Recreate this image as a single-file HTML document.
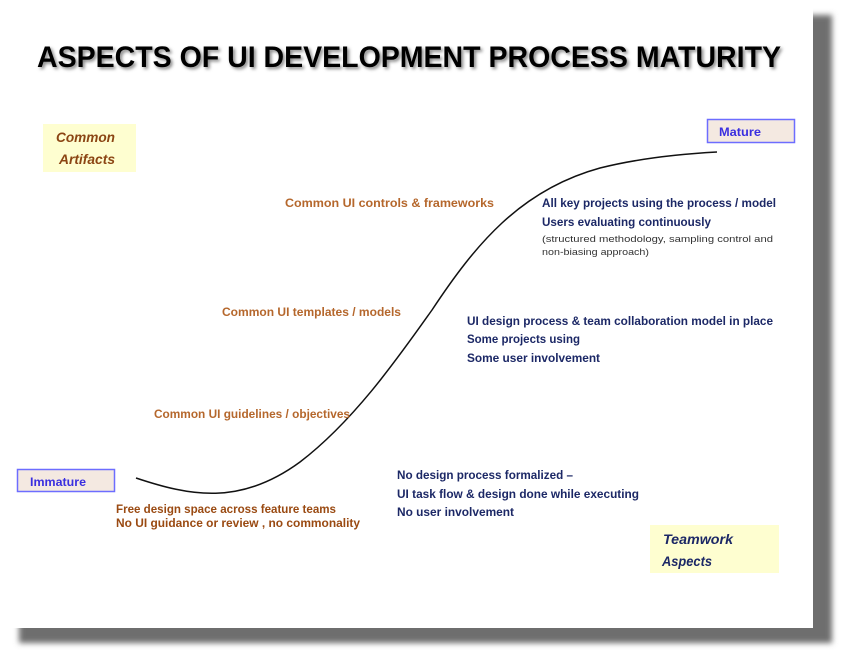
<!DOCTYPE html>
<html><head><meta charset="utf-8"><style>
html,body{margin:0;padding:0;background:#fff;width:841px;height:656px;overflow:hidden}
svg{display:block}
</style></head><body>
<svg width="841" height="656" viewBox="0 0 841 656" xmlns="http://www.w3.org/2000/svg" font-family="'Liberation Sans', sans-serif">
<defs>
<filter id="b" x="-5%" y="-5%" width="110%" height="110%"><feGaussianBlur stdDeviation="3"/></filter>
<filter id="ts" x="-5%" y="-30%" width="110%" height="160%"><feGaussianBlur stdDeviation="1.5"/></filter>
</defs>
<rect x="19" y="15" width="813" height="628" fill="#6e6e6e" filter="url(#b)"/>
<rect x="0" y="0" width="813" height="628" fill="#fff"/>
<g font-weight="bold" font-size="30">
<text x="39" y="69" textLength="744" lengthAdjust="spacingAndGlyphs" fill="#888" filter="url(#ts)">ASPECTS OF UI DEVELOPMENT PROCESS MATURITY</text>
<text x="37" y="67" textLength="744" lengthAdjust="spacingAndGlyphs" fill="#000">ASPECTS OF UI DEVELOPMENT PROCESS MATURITY</text>
</g>
<rect x="43" y="124" width="93" height="48" fill="#fefed0"/>
<g font-weight="bold" font-style="italic" font-size="14" fill="#8b4513">
<text x="56" y="142" textLength="59" lengthAdjust="spacingAndGlyphs">Common</text>
<text x="59" y="164" textLength="56" lengthAdjust="spacingAndGlyphs">Artifacts</text>
</g>
<rect x="650" y="525" width="129" height="48" fill="#fefed0"/>
<g font-weight="bold" font-style="italic" font-size="14" fill="#1c2866">
<text x="663" y="544" textLength="70" lengthAdjust="spacingAndGlyphs">Teamwork</text>
<text x="662" y="566" textLength="50" lengthAdjust="spacingAndGlyphs">Aspects</text>
</g>
<rect x="707.5" y="119.5" width="87" height="23" fill="#f4e9e1" stroke="#6d6dff" stroke-width="1.5"/>
<text x="719" y="136" font-size="12" font-weight="bold" fill="#3a2fe0" textLength="42" lengthAdjust="spacingAndGlyphs">Mature</text>
<rect x="17.5" y="469.5" width="97" height="22" fill="#f4e9e1" stroke="#6d6dff" stroke-width="1.5"/>
<text x="30" y="486" font-size="12" font-weight="bold" fill="#3a2fe0" textLength="56" lengthAdjust="spacingAndGlyphs">Immature</text>
<path d="M136,478 C190,496 240,506 300,462 C355,420 400,355 432,310 C475,245 520,190 600,168 C640,158 680,154 717,152" fill="none" stroke="#111" stroke-width="1.5"/>
<g font-weight="bold" font-size="12" fill="#b5672c">
<text x="285" y="207" textLength="209" lengthAdjust="spacingAndGlyphs">Common UI controls &amp; frameworks</text>
<text x="222" y="316" textLength="179" lengthAdjust="spacingAndGlyphs">Common UI templates / models</text>
<text x="154" y="418" textLength="196" lengthAdjust="spacingAndGlyphs">Common UI guidelines / objectives</text>
</g>
<g font-weight="bold" font-size="12" fill="#9a4a12">
<text x="116" y="513" textLength="220" lengthAdjust="spacingAndGlyphs">Free design space across feature teams</text>
<text x="116" y="527" textLength="244" lengthAdjust="spacingAndGlyphs">No UI guidance or review , no commonality</text>
</g>
<g font-weight="bold" font-size="12" fill="#1c2866">
<text x="542" y="207" textLength="234" lengthAdjust="spacingAndGlyphs">All key projects using the process / model</text>
<text x="542" y="226" textLength="169" lengthAdjust="spacingAndGlyphs">Users evaluating continuously</text>
<text x="467" y="325" textLength="306" lengthAdjust="spacingAndGlyphs">UI design process &amp; team collaboration model in place</text>
<text x="467" y="343" textLength="113" lengthAdjust="spacingAndGlyphs">Some projects using</text>
<text x="467" y="362" textLength="133" lengthAdjust="spacingAndGlyphs">Some user involvement</text>
<text x="397" y="479" textLength="176" lengthAdjust="spacingAndGlyphs">No design process formalized –</text>
<text x="397" y="498" textLength="242" lengthAdjust="spacingAndGlyphs">UI task flow &amp; design done while executing</text>
<text x="397" y="516" textLength="117" lengthAdjust="spacingAndGlyphs">No user involvement</text>
</g>
<g font-size="9.5" fill="#333">
<text x="542" y="242" textLength="231" lengthAdjust="spacingAndGlyphs">(structured methodology, sampling  control and</text>
<text x="542" y="255" textLength="107" lengthAdjust="spacingAndGlyphs">non-biasing approach)</text>
</g>
</svg>
</body></html>
